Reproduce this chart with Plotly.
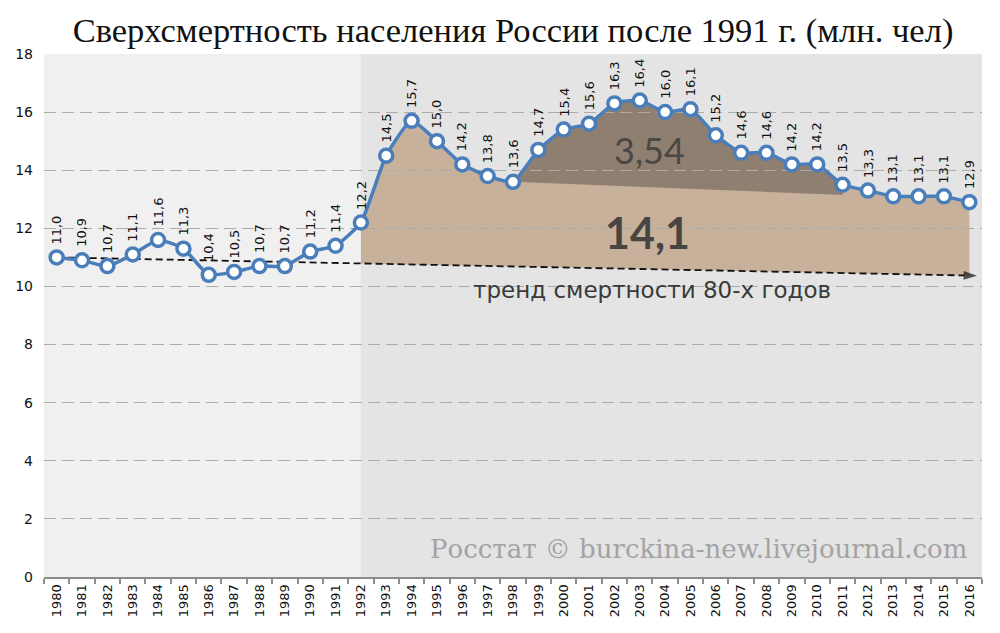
import plotly.graph_objects as go

years = list(range(1980, 2017))
values = [11.0, 10.9, 10.7, 11.1, 11.6, 11.3, 10.4, 10.5, 10.7, 10.7, 11.2, 11.4,
          12.2, 14.5, 15.7, 15.0, 14.2, 13.8, 13.6, 14.7, 15.4, 15.6, 16.3, 16.4,
          16.0, 16.1, 15.2, 14.6, 14.6, 14.2, 14.2, 13.5, 13.3, 13.1, 13.1, 13.1, 12.9]
y_ticks = [0, 2, 4, 6, 8, 10, 12, 14, 16, 18]

# trend of 1980s mortality (start, end of arrow)
trend_years = [1980, 2016.3]
trend_values = [11.0, 10.37]

# period after 1991
post_start = 1992
# darker region (excess above a declining base) : base from 1998 to 2011
dark_years = [1998, 2011]
dark_base = [13.6, 13.15]

label_total = "14,1"
label_dark = "3,54"
title = "Сверхсмертность населения России после 1991 г. (млн. чел)"
trend_label = "тренд смертности 80-х годов"
credit = "Росстат © burckina-new.livejournal.com"

LINE = "#4a7ebb"
SANS = "DejaVu Sans"


def trend_at(x):
    x0, x1 = trend_years
    y0, y1 = trend_values
    return y0 + (y1 - y0) * (x - x0) / (x1 - x0)


def path_from(points):
    return "M " + " L ".join(f"{x},{y}" for x, y in points) + " Z"


post = [(x, v) for x, v in zip(years, values) if x >= post_start]
light_poly = post + [(years[-1], trend_at(years[-1])), (post_start, trend_at(post_start))]

dark = [(x, v) for x, v in zip(years, values) if dark_years[0] <= x <= dark_years[1]]
dark_poly = dark + [(dark_years[1], dark_base[1]), (dark_years[0], dark_base[0])]

fig = go.Figure()

shapes = [
    dict(type="rect", xref="x", yref="paper", x0=post_start, x1=years[-1] + 0.5,
         y0=0, y1=1, fillcolor="#e4e4e4", line_width=0, layer="below"),
    dict(type="path", xref="x", yref="y", path=path_from(light_poly),
         fillcolor="#c8b19a", line_width=0, layer="below"),
    dict(type="path", xref="x", yref="y", path=path_from(dark_poly),
         fillcolor="#8f7f70", line_width=0, layer="below"),
]

fig.add_trace(go.Scatter(
    x=trend_years, y=trend_values, mode="lines+markers",
    line=dict(color="#111111", width=1.8, dash="7px,4px"),
    marker=dict(symbol="arrow", size=[0, 14], angleref="previous", color="#111111",
                line=dict(width=0)),
    hoverinfo="skip", showlegend=False))

fig.add_trace(go.Scatter(
    x=years, y=values, mode="lines+markers",
    line=dict(color=LINE, width=3.5, shape="spline", smoothing=0.5),
    marker=dict(size=13, color="white", line=dict(color=LINE, width=3.5)),
    showlegend=False))

annotations = []
for x, v in zip(years, values):
    annotations.append(dict(
        x=x, y=v, xref="x", yref="y", text=f"{v:.1f}".replace(".", ","),
        textangle=-90, showarrow=False, yanchor="bottom", yshift=11,
        font=dict(family=SANS, size=13, color="#111111")))

annotations.append(dict(
    x=2003.4, y=14.7, xref="x", yref="y", text=label_dark, showarrow=False,
    font=dict(family="Lato", size=36, color="#4a4744")))
annotations.append(dict(
    x=2003.3, y=11.87, xref="x", yref="y", text=label_total, showarrow=False,
    font=dict(family="Lato", size=43, color="#474442", weight="bold")))
annotations.append(dict(
    x=2003.5, y=9.88, xref="x", yref="y", text=trend_label, showarrow=False,
    font=dict(family="DejaVu Sans", size=23, color="#3a3a3a")))
annotations.append(dict(
    x=2016.0, y=0.95, xref="x", yref="y", text=credit, showarrow=False,
    xanchor="right", font=dict(family="DejaVu Serif", size=26, color="#a3a3a3")))

fig.update_layout(
    width=1000, height=633,
    margin=dict(l=44, r=18, t=54, b=56),
    paper_bgcolor="white", plot_bgcolor="#f0f0f0",
    title=dict(text=title, x=0.513, xanchor="center", y=0.953, yanchor="middle",
               font=dict(family="Liberation Serif", size=34.5, color="#111111")),
    shapes=shapes, annotations=annotations,
    xaxis=dict(range=[years[0] - 0.5, years[-1] + 0.5], tickmode="array",
               tickvals=years, ticktext=[str(y) for y in years], tickangle=-90,
               ticks="", showgrid=False, zeroline=False,
               showline=True, linecolor="#8c8c8c", linewidth=2,
               ticklabelstandoff=0,
               tickfont=dict(family=SANS, size=13, color="#111111"),
               minor=dict(ticks="outside", tick0=years[0] - 0.5, dtick=1, ticklen=5,
                          tickcolor="#8c8c8c", tickwidth=2, showgrid=False)),
    yaxis=dict(range=[0, 18], tickmode="array", tickvals=y_ticks,
               showgrid=True, gridcolor="#ababab", griddash="12px,6px", gridwidth=1,
               zeroline=False, showline=False, ticks="",
               ticklabelstandoff=10,
               tickfont=dict(family=SANS, size=14, color="#111111")),
)

fig.write_html("out.html")
